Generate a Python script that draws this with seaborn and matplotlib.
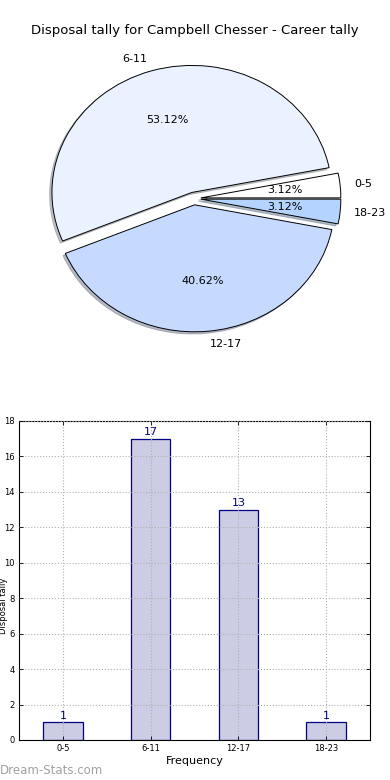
"""
Disposal tally for one player - pie of share plus bar of counts
"""
import matplotlib
matplotlib.use('Agg')
import matplotlib.pyplot as plt
import pandas as pd
import seaborn as sns

player = 'Campbell Chesser'
ranges = ['0-5', '6-11', '12-17', '18-23']
tally = [1, 17, 13, 1]
pie_colors = ['#ffffff', '#ebf2ff', '#c6d9ff', '#b4d4ff']

sns.set_theme(style='white', rc={'axes.edgecolor': 'black',
                                 'axes.linewidth': 0.8,
                                 'text.color': 'black',
                                 'axes.labelcolor': 'black',
                                 'xtick.color': 'black',
                                 'ytick.color': 'black',
                                 'xtick.direction': 'in',
                                 'ytick.direction': 'in'})
plt.rcParams['font.family'] = ['DejaVu Sans']

df = pd.DataFrame({'range': ranges, 'tally': tally})

fig = plt.figure(figsize=(3.9, 7.8), dpi=100)
fig.suptitle(f'Disposal tally for {player} - Career tally', y=0.969, fontsize=9.5)

#%% PIE
ax_pie = fig.add_axes([0.0487, 0.542, 0.897, 0.407])
ax_pie.pie(df['tally'], labels=df['range'], colors=pie_colors,
           explode=[0.05] * len(ranges), autopct='%1.2f%%',
           shadow={'ox': -0.012, 'oy': -0.012, 'shade': 0.45},
           startangle=0, counterclock=True,
           wedgeprops={'edgecolor': 'black', 'linewidth': 0.7},
           textprops={'fontsize': 8, 'color': 'black'})
ax_pie.set_aspect('auto')
ax_pie.set_xlim(-1.25, 1.25)
ax_pie.set_ylim(-1.25, 1.25)
ax_pie.axis('off')

#%% BAR
ax = fig.add_axes([0.0487, 0.0513, 0.9, 0.409])
sns.barplot(df, x='range', y='tally', color='#ccccE5', edgecolor='#000080',
            linewidth=0.9, width=0.45, saturation=1, ax=ax)
ax.bar_label(ax.containers[0], padding=1, color='#000080', fontsize=8)
ax.set_ylim(0, 18)
ax.set_yticks(range(0, 19, 2))
ax.set_xlim(-0.5, 3.5)
ax.grid(True, linestyle=':', color='#b0b0b0', linewidth=0.8)
ax.set_axisbelow(False)
ax.tick_params(axis='both', labelsize=6, length=3, right=True, top=True,
               left=True, bottom=True, width=0.6, pad=3)
ax.set_xlabel('Frequency', fontsize=8, labelpad=2)
ax.set_ylabel('Disposal tally', fontsize=6)
ax.yaxis.set_label_coords(-0.031, 0.42)

fig.text(0.0, 0.004, 'Dream-Stats.com', color='#a0a0a0', fontsize=8.5,
         ha='left', va='bottom')

plt.savefig('out.png', dpi=100)
